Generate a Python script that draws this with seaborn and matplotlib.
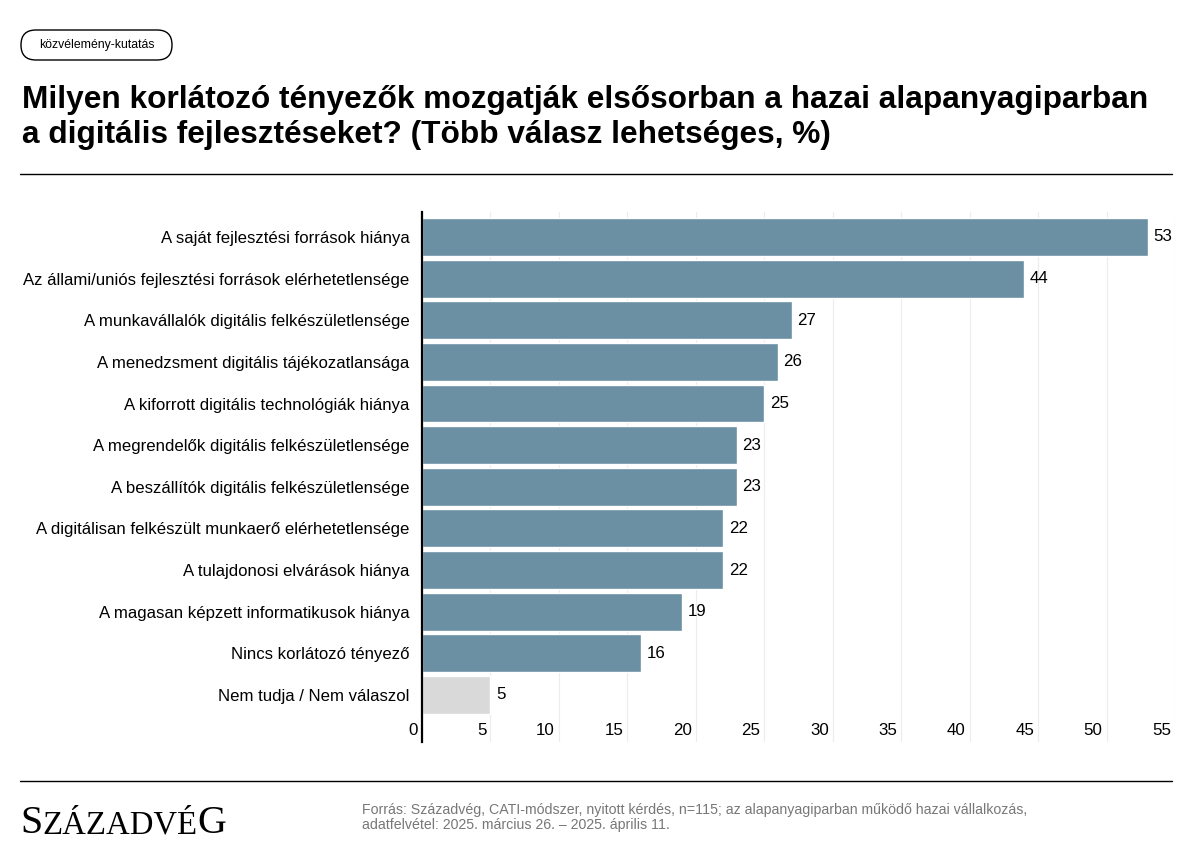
import matplotlib
matplotlib.use("Agg")
import matplotlib.pyplot as plt
import matplotlib.transforms as mtransforms
from matplotlib.patches import FancyBboxPatch
from matplotlib.lines import Line2D
import seaborn as sns
import pandas as pd

# Data
categories = [
    "A saját fejlesztési források hiánya",
    "Az állami/uniós fejlesztési források elérhetetlensége",
    "A munkavállalók digitális felkészületlensége",
    "A menedzsment digitális tájékozatlansága",
    "A kiforrott digitális technológiák hiánya",
    "A megrendelők digitális felkészületlensége",
    "A beszállítók digitális felkészületlensége",
    "A digitálisan felkészült munkaerő elérhetetlensége",
    "A tulajdonosi elvárások hiánya",
    "A magasan képzett informatikusok hiánya",
    "Nincs korlátozó tényező",
    "Nem tudja / Nem válaszol",
]
values = [53, 44, 27, 26, 25, 23, 23, 22, 22, 19, 16, 5]
xticks = [0, 5, 10, 15, 20, 25, 30, 35, 40, 45, 50, 55]

BLUE = "#6b8fa3"
GREY = "#d9d9d9"
colors = [BLUE] * (len(categories) - 1) + [GREY]

df = pd.DataFrame({"cat": categories, "val": values})

sns.set_theme(style="white")
plt.rcParams["font.family"] = ["Liberation Sans", "DejaVu Sans"]

W, H = 1193, 855
fig = plt.figure(figsize=(W / 100, H / 100), dpi=100)

ax = fig.add_axes([422 / W, 1 - 742 / H, (1175 - 422) / W, (742 - 212) / H])
sns.barplot(data=df, x="val", y="cat", hue="cat", palette=colors, legend=False,
            width=0.91, ax=ax, zorder=3, saturation=1)

ax.set_xlim(0, 55)
ax.set_ylim(12.13, -0.6)
ax.set_xlabel("")
ax.set_ylabel("")

# grid
ax.set_xticks(xticks)
ax.xaxis.grid(True, color="#ececec", linewidth=0.8, zorder=0)
ax.set_axisbelow(True)
for s in ["top", "right", "bottom"]:
    ax.spines[s].set_visible(False)
ax.spines["left"].set_color("black")
ax.spines["left"].set_linewidth(1.6)
ax.spines["left"].set_zorder(5)

ax.tick_params(axis="x", length=0, pad=-14, labelsize=12.2, labelcolor="black")
ax.tick_params(axis="y", length=0, pad=9, labelsize=12.1, labelcolor="black")
offset = mtransforms.ScaledTranslation(-4 / 100, 0, fig.dpi_scale_trans)
for lab in ax.get_xticklabels():
    lab.set_horizontalalignment("right")
    lab.set_transform(lab.get_transform() + offset)

# value labels
for i, v in enumerate(values):
    ax.annotate(f"{v}", xy=(v, i), xytext=(4, 0), textcoords="offset points",
                va="center", ha="left", fontsize=12.2, color="black")

# badge
badge = FancyBboxPatch((21 / W, 1 - 60 / H), (172 - 21) / W, 30 / H,
                       boxstyle="round,pad=0,rounding_size=0.0125",
                       transform=fig.transFigure, facecolor="white",
                       edgecolor="black", linewidth=1.0, mutation_aspect=W / H)
fig.patches.append(badge)
fig.text((21 + 172) / 2 / W, 1 - 45 / H, "közvélemény-kutatás", ha="center",
         va="center", fontsize=8.8, color="black")

# title
fig.text(22 / W, 1 - 100 / H, "Milyen korlátozó tényezők mozgatják elsősorban a hazai alapanyagiparban",
         ha="left", va="center", fontsize=22.8, fontweight="bold", color="black")
fig.text(22 / W, 1 - 135 / H, "a digitális fejlesztéseket? (Több válasz lehetséges, %)",
         ha="left", va="center", fontsize=22.8, fontweight="bold", color="black")

# rules
fig.add_artist(Line2D([20 / W, 1172 / W], [1 - 174 / H, 1 - 174 / H],
                      transform=fig.transFigure, color="black", linewidth=1.0))
fig.add_artist(Line2D([20 / W, 1172 / W], [1 - 781 / H, 1 - 781 / H],
                      transform=fig.transFigure, color="black", linewidth=1.0))

# logo: large S and G, small caps in between, fitted to the reference width
serif = ["Liberation Serif", "DejaVu Serif"]
renderer = fig.canvas.get_renderer()
big, small = 33, 27
parts = [("S", big), ("ZÁZADVÉ", small), ("G", big)]
for _ in range(2):
    widths = []
    for txt, fs in parts:
        t = fig.text(0, 0, txt, family=serif, fontsize=fs)
        widths.append(t.get_window_extent(renderer).width)
        t.remove()
    scale = 206 / sum(widths)
    parts = [(txt, fs * scale) for txt, fs in parts]
x = 20
for txt, fs in parts:
    t = fig.text(x / W, 1 - 833 / H, txt, family=serif, fontsize=fs, ha="left",
                 va="baseline", color="black")
    x += t.get_window_extent(renderer).width

# source
fig.text(362 / W, 1 - 810 / H,
         "Forrás: Századvég, CATI-módszer, nyitott kérdés, n=115; az alapanyagiparban működő hazai vállalkozás,",
         ha="left", va="center", fontsize=10.2, color="#777777")
fig.text(362 / W, 1 - 825 / H,
         "adatfelvétel: 2025. március 26. – 2025. április 11.",
         ha="left", va="center", fontsize=10.2, color="#777777")

fig.savefig("out.png", dpi=100, facecolor="white")
